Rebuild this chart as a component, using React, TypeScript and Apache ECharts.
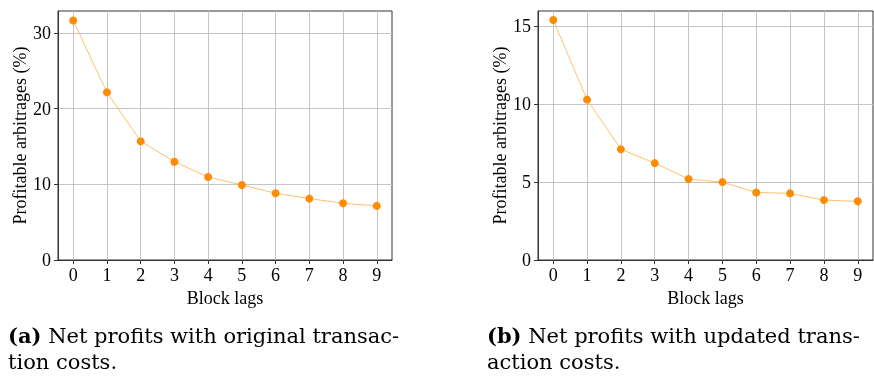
import React, { useEffect, useRef } from 'react';
import * as echarts from 'echarts';

const blockLags = [0, 1, 2, 3, 4, 5, 6, 7, 8, 9];
const originalCosts = [31.65, 22.15, 15.7, 12.98, 10.96, 9.91, 8.82, 8.11, 7.5, 7.15];
const updatedCosts = [15.38, 10.28, 7.1, 6.21, 5.19, 4.99, 4.33, 4.27, 3.84, 3.76];
const yTicksA = [0, 10, 20, 30];
const yTicksB = [0, 5, 10, 15];
const xLabel = 'Block lags';
const yLabel = 'Profitable arbitrages (%)';
const captionA = { tag: '(a)', line1: ' Net profits with original transac-', line2: 'tion costs.' };
const captionB = { tag: '(b)', line1: ' Net profits with updated trans-', line2: 'action costs.' };

const AXIS_FONT = 'Liberation Serif';
const CAP_FONT = 'DejaVu Serif';
const ORANGE = '#ff8c00';

function makeX(gridIndex: number) {
  return {
    type: 'value',
    gridIndex,
    min: -0.45,
    max: 9.45,
    name: xLabel,
    nameLocation: 'middle',
    nameGap: 25,
    nameTextStyle: { fontFamily: AXIS_FONT, fontSize: 18, color: '#000' },
    axisLine: { show: true, onZero: false, lineStyle: { color: '#333', width: 1 } },
    axisTick: { show: true, length: 4, customValues: blockLags, lineStyle: { color: '#333' } },
    axisLabel: { customValues: blockLags, fontFamily: AXIS_FONT, fontSize: 18, color: '#000', margin: 6 },
    splitLine: { show: true, lineStyle: { color: '#c4c4c4', width: 1 } },
  };
}

function makeY(gridIndex: number, max: number, interval: number, ticks: number[]) {
  return {
    type: 'value',
    gridIndex,
    min: 0,
    max,
    interval,
    name: yLabel,
    nameLocation: 'middle',
    nameGap: 29,
    nameTextStyle: { fontFamily: AXIS_FONT, fontSize: 18, color: '#000' },
    axisLine: { show: true, onZero: false, lineStyle: { color: '#333', width: 1 } },
    axisTick: { show: true, length: 4, customValues: ticks, lineStyle: { color: '#333' } },
    axisLabel: { customValues: ticks, fontFamily: AXIS_FONT, fontSize: 18, color: '#000', margin: 7 },
    splitLine: { show: true, lineStyle: { color: '#c4c4c4', width: 1 } },
  };
}

function makeSeries(idx: number, values: number[]) {
  return {
    type: 'line',
    xAxisIndex: idx,
    yAxisIndex: idx,
    data: blockLags.map((x, i) => [x, values[i]]),
    symbol: 'circle',
    symbolSize: 8,
    itemStyle: { color: ORANGE },
    lineStyle: { color: '#ffb04d', width: 0.8 },
    z: 3,
  };
}

function caption(left: number, c: { tag: string; line1: string; line2: string }) {
  return {
    type: 'text',
    left,
    top: 325,
    style: {
      text: `{b|${c.tag}}{n|${c.line1}}\n{n|${c.line2}}`,
      rich: {
        b: { fontFamily: CAP_FONT, fontSize: 21, fontWeight: 'bold', color: '#000', lineHeight: 26 },
        n: { fontFamily: CAP_FONT, fontSize: 21, color: '#000', lineHeight: 26 },
      },
      fontFamily: CAP_FONT,
      fontSize: 21,
      fill: '#000',
    },
  };
}

export default function App() {
  const ref = useRef<HTMLDivElement>(null);
  useEffect(() => {
    if (!ref.current) return;
    const chart = echarts.init(ref.current, undefined, { renderer: 'svg' });
    chart.setOption({
      animation: false,
      grid: [
        { left: 58, top: 11, width: 334, height: 249, show: true, borderColor: '#333', borderWidth: 1, backgroundColor: 'transparent' },
        { left: 538, top: 11, width: 335, height: 249, show: true, borderColor: '#333', borderWidth: 1, backgroundColor: 'transparent' },
      ],
      xAxis: [makeX(0), makeX(1)],
      yAxis: [makeY(0, 32.9, 10, yTicksA), makeY(1, 15.96, 5, yTicksB)],
      series: [makeSeries(0, originalCosts), makeSeries(1, updatedCosts)],
      graphic: [caption(8, captionA), caption(487, captionB)],
    });
    return () => chart.dispose();
  }, []);
  return <div ref={ref} style={{ position: 'fixed', left: 0, top: 0, width: 874, height: 378 }} />;
}
